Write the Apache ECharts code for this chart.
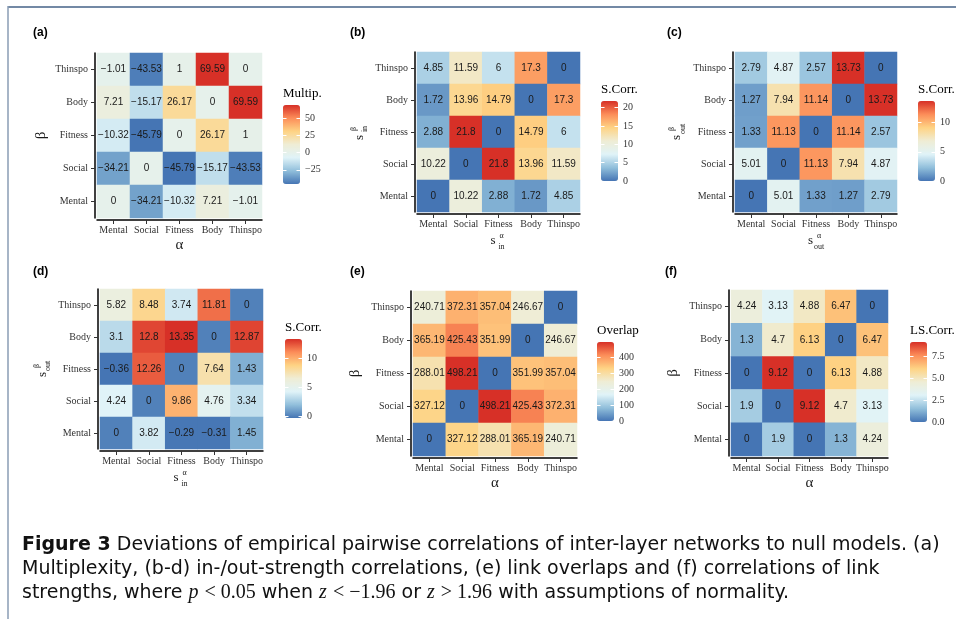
<!DOCTYPE html>
<html>
<head>
<meta charset="utf-8">
<title>Figure 3</title>
<script src="https://cdn.jsdelivr.net/npm/echarts@6/dist/echarts.min.js"></script>
<style>
html,body{margin:0;padding:0;background:#fff;}
#main{width:956px;height:619px;}
</style>
</head>
<body>
<div id="main"></div>
<script>
(function(echarts){
    "use strict";

    var layers = ['Mental', 'Social', 'Fitness', 'Body', 'Thinspo'];

    // rows as they are drawn: top row Thinspo, bottom row Mental
    var multip = [
        [-1.01, -43.53, 1, 69.59, 0],
        [7.21, -15.17, 26.17, 0, 69.59],
        [-10.32, -45.79, 0, 26.17, 1],
        [-34.21, 0, -45.79, -15.17, -43.53],
        [0, -34.21, -10.32, 7.21, -1.01]
    ];
    var inCorr = [
        [4.85, 11.59, 6, 17.3, 0],
        [1.72, 13.96, 14.79, 0, 17.3],
        [2.88, 21.8, 0, 14.79, 6],
        [10.22, 0, 21.8, 13.96, 11.59],
        [0, 10.22, 2.88, 1.72, 4.85]
    ];
    var outCorr = [
        [2.79, 4.87, 2.57, 13.73, 0],
        [1.27, 7.94, 11.14, 0, 13.73],
        [1.33, 11.13, 0, 11.14, 2.57],
        [5.01, 0, 11.13, 7.94, 4.87],
        [0, 5.01, 1.33, 1.27, 2.79]
    ];
    var inOutCorr = [
        [5.82, 8.48, 3.74, 11.81, 0],
        [3.1, 12.8, 13.35, 0, 12.87],
        [-0.36, 12.26, 0, 7.64, 1.43],
        [4.24, 0, 9.86, 4.76, 3.34],
        [0, 3.82, -0.29, -0.31, 1.45]
    ];
    var overlap = [
        [240.71, 372.31, 357.04, 246.67, 0],
        [365.19, 425.43, 351.99, 0, 246.67],
        [288.01, 498.21, 0, 351.99, 357.04],
        [327.12, 0, 498.21, 425.43, 372.31],
        [0, 327.12, 288.01, 365.19, 240.71]
    ];
    var lsCorr = [
        [4.24, 3.13, 4.88, 6.47, 0],
        [1.3, 4.7, 6.13, 0, 6.47],
        [0, 9.12, 0, 6.13, 4.88],
        [1.9, 0, 9.12, 4.7, 3.13],
        [0, 1.9, 0, 1.3, 4.24]
    ];

    // colour bar tick labels
    var multipTicks = [-25, 0, 25, 50];
    var inTicks = [0, 5, 10, 15, 20];
    var outTicks = [0, 5, 10];
    var inOutTicks = [0, 5, 10];
    var overlapTicks = [0, 100, 200, 300, 400];
    var lsTicks = [0, 2.5, 5, 7.5];

    var palette = ['#4575b4', '#91bfdb', '#e0f3f8', '#efedd5', '#fed384', '#fc8d59', '#d73027'];
    var SERIF = 'Liberation Serif';
    var SANS = 'Liberation Sans';

    // layout of the six panels
    var panels = [
        {tag: '(a)', data: multip, ticks: multipTicks, legend: 'Multip.', x: ['g', 'α'], y: ['g', 'β'],
            grid: {left: 97, top: 53, width: 165, height: 165}, tagPos: [33, 27],
            bar: {left: 283, top: 105, height: 79}, xGap: 18, yGap: 46},
        {tag: '(b)', data: inCorr, ticks: inTicks, legend: 'S.Corr.', x: ['s', 'α', 'in'], y: ['s', 'β', 'in'],
            grid: {left: 417, top: 52, width: 163, height: 160}, tagPos: [350, 27],
            bar: {left: 601, top: 101, height: 80}, xGap: 17, yGap: 45},
        {tag: '(c)', data: outCorr, ticks: outTicks, legend: 'S.Corr.', x: ['s', 'α', 'out'], y: ['s', 'β', 'out'],
            grid: {left: 735, top: 52, width: 162, height: 160}, tagPos: [667, 27],
            bar: {left: 918, top: 101, height: 80}, xGap: 17, yGap: 47},
        {tag: '(d)', data: inOutCorr, ticks: inOutTicks, legend: 'S.Corr.', x: ['s', 'α', 'in'], y: ['s', 'β', 'out'],
            grid: {left: 100, top: 289, width: 163, height: 160}, tagPos: [33, 266],
            bar: {left: 285, top: 339, height: 79}, xGap: 16, yGap: 45},
        {tag: '(e)', data: overlap, ticks: overlapTicks, legend: 'Overlap', x: ['g', 'α'], y: ['g', 'β'],
            grid: {left: 413, top: 291, width: 164, height: 165}, tagPos: [350, 266],
            bar: {left: 597, top: 342, height: 79}, xGap: 18, yGap: 48},
        {tag: '(f)', data: lsCorr, ticks: lsTicks, legend: 'LS.Corr.', x: ['g', 'α'], y: ['g', 'β'],
            grid: {left: 731, top: 290, width: 157, height: 166}, tagPos: [665, 266],
            bar: {left: 910, top: 342, height: 80}, xGap: 18, yGap: 48, decimals: 1}
    ];

    function cells(rows){
        var out = [];
        rows.forEach(function(row, r){
            row.forEach(function(v, c){
                out.push([c, rows.length - 1 - r, v]);
            });
        });
        return out;
    }

    function minus(s){
        return String(s).replace('-', '\u2212');
    }

    function extent(rows){
        var all = [].concat.apply([], rows);
        return [Math.min.apply(null, all), Math.max.apply(null, all)];
    }

    // axis titles: plain greek letter, or s with stacked super/subscript
    function axisName(def){
        if(def[0] === 'g'){
            return '{g|' + def[1] + '}';
        }
        return '{sp| }{up|' + def[1] + '}\n{s|s}{pad| }\n{sp| }{dn|' + def[2] + '}';
    }

    var nameRich = {
        g: {fontFamily: SERIF, fontSize: 15, color: '#1a1a1a'},
        s: {fontFamily: SERIF, fontSize: 13, width: 6, lineHeight: 5, color: '#1a1a1a'},
        pad: {width: 11, lineHeight: 5},
        sp: {width: 6, lineHeight: 5},
        up: {fontFamily: SERIF, fontSize: 8, width: 11, align: 'left', lineHeight: 5, color: '#1a1a1a'},
        dn: {fontFamily: SERIF, fontSize: 8, width: 11, align: 'left', lineHeight: 7, color: '#1a1a1a'}
    };

    var option = {
        backgroundColor: '#fff',
        animation: false,
        title: [],
        grid: [],
        xAxis: [],
        yAxis: [],
        visualMap: [],
        series: [],
        graphic: [
            {type: 'line', shape: {x1: 8, y1: 7, x2: 956, y2: 7}, style: {stroke: '#7389a5', lineWidth: 2}},
            {type: 'line', shape: {x1: 8, y1: 6, x2: 8, y2: 619}, style: {stroke: '#8a9db5', lineWidth: 1.5}}
        ]
    };

    var catLabel = {fontFamily: SERIF, fontSize: 10, color: '#333', interval: 0};
    var tick = {show: true, alignWithLabel: true, length: 4, lineStyle: {color: '#333', width: 1}};
    var line = {show: true, lineStyle: {color: '#000', width: 1.5}};

    // heatmap panels
    panels.forEach(function(p, i){
        var ext = extent(p.data);
        option.grid.push(p.grid);
        option.xAxis.push({
            gridIndex: i, type: 'category', data: layers, offset: 2,
            axisLine: line, axisTick: tick,
            axisLabel: Object.assign({margin: 5}, catLabel),
            splitLine: {show: false},
            name: axisName(p.x), nameLocation: 'middle', nameGap: p.xGap,
            nameTextStyle: {rich: nameRich}
        });
        option.yAxis.push({
            gridIndex: i, type: 'category', data: layers, offset: 2,
            axisLine: line, axisTick: tick,
            axisLabel: Object.assign({margin: 7}, catLabel),
            splitLine: {show: false},
            name: axisName(p.y), nameLocation: 'middle', nameGap: p.yGap, nameRotate: 90,
            nameTextStyle: {rich: nameRich}
        });
        option.series.push({
            type: 'heatmap', xAxisIndex: i, yAxisIndex: i,
            data: cells(p.data),
            itemStyle: {borderWidth: 0},
            emphasis: {disabled: true},
            label: {
                show: true, fontFamily: SANS, fontSize: 10, color: '#1a1a1a',
                formatter: function(d){ return minus(d.value[2]); }
            }
        });
        option.visualMap.push({
            type: 'continuous', seriesIndex: i, min: ext[0], max: ext[1],
            left: p.bar.left, top: p.bar.top, itemWidth: 17, itemHeight: p.bar.height,
            padding: 0, calculable: false, hoverLink: false,
            inRange: {color: palette}
        });
        option.title.push({
            text: p.tag, left: p.tagPos[0], top: p.tagPos[1], padding: 0,
            textStyle: {fontFamily: SANS, fontWeight: 'bold', fontSize: 12, color: '#000'}
        });
        option.title.push({
            text: p.legend, left: p.bar.left, top: p.bar.top - 18, padding: 0,
            textStyle: {fontFamily: SERIF, fontWeight: 'normal', fontSize: 13, color: '#000'}
        });
    });

    // colour bar scales, drawn on top of the visualMap bars
    panels.forEach(function(p, i){
        var g = panels.length + i;
        var ext = extent(p.data);
        var dec = p.decimals || 0;
        option.grid.push({left: p.bar.left, top: p.bar.top, width: 17, height: p.bar.height});
        option.xAxis.push({gridIndex: g, type: 'value', show: false});
        var whiteTick = {show: true, inside: true, length: 3.5, lineStyle: {color: '#fff', width: 1}, customValues: p.ticks};
        option.yAxis.push({
            gridIndex: g, type: 'value', min: ext[0], max: ext[1], position: 'left', z: 10,
            axisLine: {show: false}, splitLine: {show: false},
            axisTick: whiteTick, axisLabel: {show: false, customValues: p.ticks}
        });
        option.yAxis.push({
            gridIndex: g, type: 'value', min: ext[0], max: ext[1], position: 'right', z: 10,
            axisLine: {show: false}, splitLine: {show: false},
            axisTick: whiteTick,
            axisLabel: {
                show: true, customValues: p.ticks, margin: 5,
                fontFamily: SERIF, fontSize: 10, color: '#333',
                formatter: function(v){ return minus(v.toFixed(dec)); }
            }
        });
    });

    var CAP = 'DejaVu Sans';
    option.title.push({
        left: 22, top: 533, padding: 0,
        text: '{b|Figure 3} Deviations of empirical pairwise correlations of inter-layer networks to null models. (a)\n' +
            'Multiplexity, (b-d) in-/out-strength correlations, (e) link overlaps and (f) correlations of link\n' +
            'strengths, where {mi|p} {mr|< 0.05} when {mi|z} {mr|< \u22121.96} or {mi|z} {mr|> 1.96} with assumptions of normality.',
        textStyle: {
            fontFamily: CAP, fontWeight: 'normal', fontSize: 19, lineHeight: 24, color: '#111',
            rich: {
                b: {fontFamily: CAP, fontWeight: 'bold', fontSize: 19, color: '#111'},
                mi: {fontFamily: SERIF, fontStyle: 'italic', fontSize: 20, color: '#111'},
                mr: {fontFamily: SERIF, fontSize: 20, color: '#111'}
            }
        }
    });

    var chart = echarts.init(document.getElementById('main'), null, {renderer: 'canvas'});
    chart.setOption(option);

})(echarts);
</script>
</body>
</html>
